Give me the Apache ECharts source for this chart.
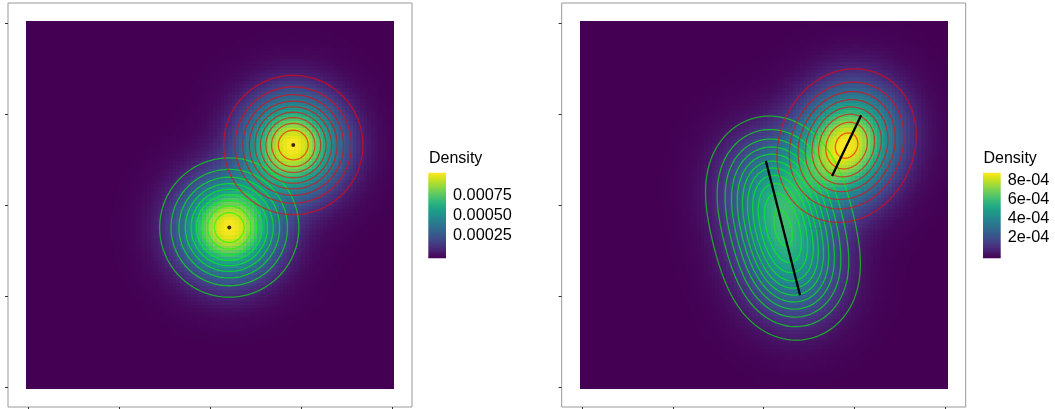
<!DOCTYPE html>
<html><head><meta charset="utf-8">
<script src="https://cdn.jsdelivr.net/npm/echarts@6/dist/echarts.min.js"></script>
<style>html,body{margin:0;padding:0;background:#fff;}#c{width:1055px;height:409px;}</style>
</head><body><div id="c"></div>
<script>
// ---------- data ----------
const gridN = 100;                         // raster is 100 x 100 cells over [0,100]
const axisTicks = [0, 25, 50, 75, 100];
const compWeights = [0.5, 0.5];            // [green, red]
const compSigma = [8.92, 8.92];
// left panel: zero-length segments (points)
const leftStart = [[55.3, 43.8], [72.9, 66.5]];
const leftEnd   = [[55.3, 43.8], [72.9, 66.5]];
// right panel: segments
const rightStart = [[50.6, 62.1], [76.8, 74.7]];
const rightEnd   = [[60.0, 25.2], [68.8, 58.0]];
// contour levels per component
const leftGreenLevels = [1e-4, 2e-4, 3e-4, 4e-4, 5e-4, 6e-4, 7e-4, 8e-4, 9e-4];
const leftRedLevels   = [1e-4, 2e-4, 3e-4, 4e-4, 5e-4, 6e-4, 7e-4, 8e-4, 9e-4];
const rightGreenLevels = [5e-5, 1e-4, 1.5e-4, 2e-4, 2.5e-4, 3e-4, 3.5e-4, 4e-4, 4.5e-4, 5e-4, 5.5e-4];
const rightRedLevels   = [1e-4, 2e-4, 3e-4, 4e-4, 5e-4, 6e-4, 7e-4, 8e-4];
const contourColors = ['rgba(0,255,0,0.6)', 'rgba(255,0,0,0.6)'];
const legendTitle = 'Density';
const leftLegendTicks = [0.00025, 0.0005, 0.00075];
const leftLegendLabels = ['0.00025', '0.00050', '0.00075'];
const rightLegendTicks = [0.0002, 0.0004, 0.0006, 0.0008];
const rightLegendLabels = ['2e-04', '4e-04', '6e-04', '8e-04'];
const viridis = ['#440154','#471365','#482475','#463480','#414487','#3B528B','#355F8D','#2F6C8E','#2A788E','#25848E','#21918C','#1E9C89','#22A884','#2FB47C','#44BF70','#5EC962','#7AD151','#9BD93C','#BDDF26','#DFE318','#FDE725'];
const legendBins = 20;                     // colourbar bins (ticks inset by half a bin)

// ---------- model ----------
function erf(x){const s=Math.sign(x);x=Math.abs(x);const t=1/(1+0.3275911*x);
  const y=1-(((((1.061405429*t-1.453152027)*t)+1.421413741)*t-0.284496736)*t+0.254829592)*t*Math.exp(-x*x);return s*y;}
function Phi(z){return 0.5*(1+erf(z/Math.SQRT2));}
function compDensity(px,py,a,b,s,w){
  const dx=b[0]-a[0],dy=b[1]-a[1],L=Math.hypot(dx,dy);
  const qx=px-(a[0]+b[0])/2,qy=py-(a[1]+b[1])/2;
  if(L<1e-9)return w*Math.exp(-(qx*qx+qy*qy)/(2*s*s))/(2*Math.PI*s*s);
  const ux=dx/L,uy=dy/L,t=qx*ux+qy*uy,d=-qx*uy+qy*ux;
  const phi=Math.exp(-d*d/(2*s*s))/(Math.sqrt(2*Math.PI)*s);
  return w/L*phi*(Phi((L/2-t)/s)-Phi((-L/2-t)/s));
}
const xs=[];for(let i=0;i<gridN;i++)xs.push(i*100/(gridN-1));
const half=50/(gridN-1);
function buildHeat(starts,ends){
  const heat=[];let max=0,min=Infinity;
  for(const x of xs)for(const y of xs){let v=0;
    for(let k=0;k<starts.length;k++)v+=compDensity(x,y,starts[k],ends[k],compSigma[k],compWeights[k]);
    heat.push([x,y,v]);if(v>max)max=v;if(v<min)min=v;}
  return {heat,max,min};
}
function traceContour(k,starts,ends,level){
  const cx=(starts[k][0]+ends[k][0])/2,cy=(starts[k][1]+ends[k][1])/2;const pts=[];const nA=360;
  for(let i=0;i<=nA;i++){const th=2*Math.PI*i/nA,c=Math.cos(th),s=Math.sin(th);let lo=0,hi=90;
    for(let it=0;it<40;it++){const m=(lo+hi)/2;
      if(compDensity(cx+m*c,cy+m*s,starts[k],ends[k],compSigma[k],compWeights[k])>level)lo=m;else hi=m;}
    pts.push([cx+lo*c,cy+lo*s]);}
  return pts;
}
const FONT='"Liberation Sans", Arial, sans-serif';
const L=buildHeat(leftStart,leftEnd), R=buildHeat(rightStart,rightEnd);

const axMin=-half-0.05*(100+2*half), axMax=100+half+0.05*(100+2*half);
function mainAxis(gi){return {type:'value',gridIndex:gi,min:axMin,max:axMax,axisLine:{show:false,onZero:false},splitLine:{show:false},
  axisTick:{show:true,inside:false,length:3,customValues:axisTicks,lineStyle:{color:'#333',width:1}},axisLabel:{show:false}};}

const series=[];
function heatSeries(data,ai){
  return {type:'custom',xAxisIndex:ai,yAxisIndex:ai,data:data,encode:{x:0,y:1},silent:true,progressive:0,z:1,animation:false,
    renderItem:function(p,api){const x=api.value(0),y=api.value(1);
      const a=api.coord([x-half,y+half]),b=api.coord([x+half,y-half]);
      const x0=Math.floor(a[0]),y0=Math.floor(a[1]),x1=Math.ceil(b[0]),y1=Math.ceil(b[1]);
      return {type:'rect',shape:{x:x0,y:y0,width:x1-x0,height:y1-y0},style:{fill:api.visual('color')}};}};
}
series.push(heatSeries(L.heat,0)); const leftHeatIdx=0;
series.push(heatSeries(R.heat,1)); const rightHeatIdx=1;
function addContours(ai,k,starts,ends,levels){
  for(const lv of levels){series.push({type:'line',xAxisIndex:ai,yAxisIndex:ai,data:traceContour(k,starts,ends,lv),
    showSymbol:false,symbol:'none',silent:true,z:2,animation:false,lineStyle:{color:contourColors[k],width:1.3}});}
}
addContours(0,0,leftStart,leftEnd,leftGreenLevels);
addContours(0,1,leftStart,leftEnd,leftRedLevels);
addContours(1,0,rightStart,rightEnd,rightGreenLevels);
addContours(1,1,rightStart,rightEnd,rightRedLevels);
series.push({type:'scatter',xAxisIndex:0,yAxisIndex:0,data:leftStart,symbolSize:4,itemStyle:{color:'#000'},silent:true,z:3,animation:false});
for(let k=0;k<rightStart.length;k++){
  series.push({type:'line',xAxisIndex:1,yAxisIndex:1,data:[rightStart[k],rightEnd[k]],showSymbol:false,symbol:'none',silent:true,z:3,animation:false,
    lineStyle:{color:'#000',width:2.3}});
}
function barSeries(ai,yi){
  return {type:'custom',xAxisIndex:ai,yAxisIndex:yi,data:[[0,0]],silent:true,z:1,animation:false,
    renderItem:function(p,api){const cs=p.coordSys;
      const stops=viridis.map((c,i)=>({offset:i/(viridis.length-1),color:c}));
      return {type:'rect',shape:{x:cs.x,y:cs.y,width:cs.width,height:cs.height},
        style:{fill:new echarts.graphic.LinearGradient(0,1,0,0,stops)}};}};
}
series.push(barSeries(2,2));
series.push(barSeries(3,4));

function labelFmt(ticks,labels){return function(v){for(let i=0;i<ticks.length;i++)if(Math.abs(v-ticks[i])<1e-12)return labels[i];return '';};}
function legendY(gi,lo,hi,pos,ticks,labels){
  const pad=(hi-lo)*0.5/(legendBins-1);
  return {type:'value',gridIndex:gi,min:lo-pad,max:hi+pad,position:pos,axisLine:{show:false,onZero:false},splitLine:{show:false},
    axisTick:{show:true,inside:true,length:3.5,customValues:ticks,lineStyle:{color:'#fff',width:1}},
    axisLabel:pos==='right'?{show:true,customValues:ticks,formatter:labelFmt(ticks,labels),margin:7,fontSize:16.3,color:'#000',fontFamily:FONT}:{show:false}};
}
const legX=(gi)=>({type:'value',gridIndex:gi,min:0,max:1,show:false});

const option={
  animation:false,
  backgroundColor:'#fff',
  grid:[
    {left:8,top:3,width:404,height:404,show:true,borderColor:'#999',borderWidth:1,backgroundColor:'#fff'},
    {left:561.7,top:3,width:404,height:404,show:true,borderColor:'#999',borderWidth:1,backgroundColor:'#fff'},
    {left:428.3,top:172.7,width:17.7,height:85.6},
    {left:983,top:172.7,width:17.7,height:85.6}
  ],
  xAxis:[mainAxis(0),mainAxis(1),legX(2),legX(3)],
  yAxis:[mainAxis(0),mainAxis(1),
    legendY(2,L.min,L.max,'left',leftLegendTicks,leftLegendLabels),legendY(2,L.min,L.max,'right',leftLegendTicks,leftLegendLabels),
    legendY(3,R.min,R.max,'left',rightLegendTicks,rightLegendLabels),legendY(3,R.min,R.max,'right',rightLegendTicks,rightLegendLabels)],
  visualMap:[
    {type:'continuous',show:false,seriesIndex:leftHeatIdx,dimension:2,min:L.min,max:L.max,inRange:{color:viridis}},
    {type:'continuous',show:false,seriesIndex:rightHeatIdx,dimension:2,min:R.min,max:R.max,inRange:{color:viridis}}
  ],
  title:[
    {text:legendTitle,left:429,top:150.5,padding:0,textStyle:{fontSize:16,fontWeight:'normal',color:'#000',fontFamily:FONT}},
    {text:legendTitle,left:983.5,top:150.5,padding:0,textStyle:{fontSize:16,fontWeight:'normal',color:'#000',fontFamily:FONT}}
  ],
  series:series
};
const chart=echarts.init(document.getElementById('c'),null,{renderer:'canvas'});
chart.setOption(option);
</script></body></html>
